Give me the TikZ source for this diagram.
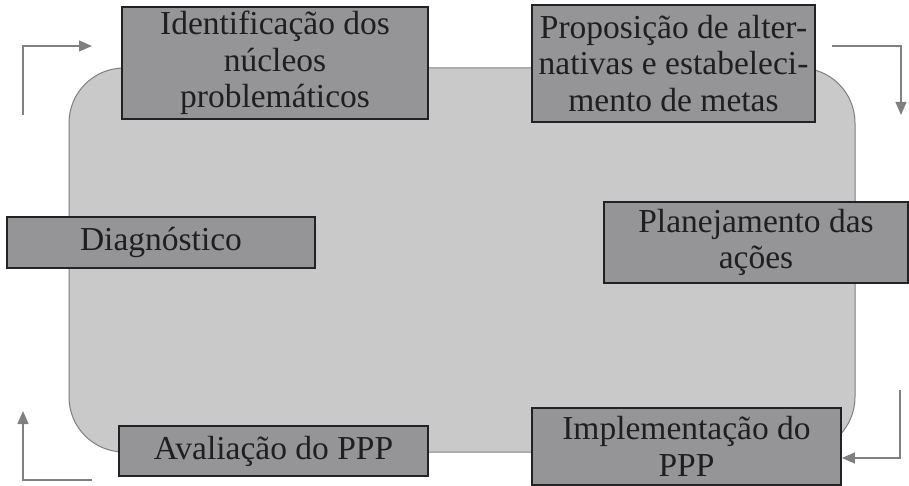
\documentclass[tikz,border=0pt]{standalone}
\usepackage{fontspec}
\setmainfont{Liberation Serif}
\usetikzlibrary{arrows.meta}
\definecolor{panel}{HTML}{C9C9C9}
\definecolor{panelline}{HTML}{7E7E7E}
\definecolor{boxfill}{HTML}{959598}
\definecolor{boxline}{HTML}{222222}
\definecolor{arrowgray}{HTML}{808080}
\begin{document}
\begin{tikzpicture}[x=1pt,y=-1pt,
  stagebox/.style={draw=boxline, fill=boxfill, line width=1.8pt, inner sep=0pt,
    align=center, text=black!88, font=\fontsize{33.5}{36.5}\selectfont},
  cyclearrow/.style={draw=arrowgray, line width=1.4pt,
    -{Triangle[length=13pt,width=11pt]}}]
\useasboundingbox (0,0) rectangle (909,486);
% background panel
\draw[panelline, fill=panel, line width=1pt, rounded corners=55pt] (69,68) rectangle (855,452);
% stage boxes
\node[stagebox, minimum width=306pt, minimum height=112pt] (ident) at (275,63)
  {Identificação dos\\núcleos\\problemáticos};
\node[stagebox, minimum width=283pt, minimum height=117pt] (prop) at (673.5,63.5)
  {Proposição de alter-\\nativas e estabeleci-\\mento de metas};
\node[stagebox, minimum width=308pt, minimum height=51pt] (diag) at (161,242.5)
  {Diagnóstico};
\node[stagebox, minimum width=304pt, minimum height=81pt] (plan) at (756,242.5)
  {Planejamento das\\ações};
\node[stagebox, minimum width=309pt, minimum height=50pt] (aval) at (273.5,451)
  {Avaliação do PPP};
\node[stagebox, minimum width=309pt, minimum height=77pt] (impl) at (686.5,446.5)
  {Implementação do\\PPP};
% arrows
\coordinate (tlstart) at (23,115);
\coordinate (tlcorner) at (23,46);
\coordinate (tlend) at (92,46);
\draw[cyclearrow] (tlstart) -- (tlcorner) -- (tlend);
\coordinate (trstart) at (832,46);
\coordinate (trcorner) at (901,46);
\coordinate (trend) at (901,115);
\draw[cyclearrow] (trstart) -- (trcorner) -- (trend);
\coordinate (brstart) at (900,390);
\coordinate (brcorner) at (900,458);
\draw[cyclearrow] (brstart) -- (brcorner) -- (brcorner -| impl.east);
\coordinate (blstart) at (92,480);
\coordinate (blcorner) at (23,480);
\coordinate (blend) at (23,411);
\draw[cyclearrow] (blstart) -- (blcorner) -- (blend);
\end{tikzpicture}
\end{document}
